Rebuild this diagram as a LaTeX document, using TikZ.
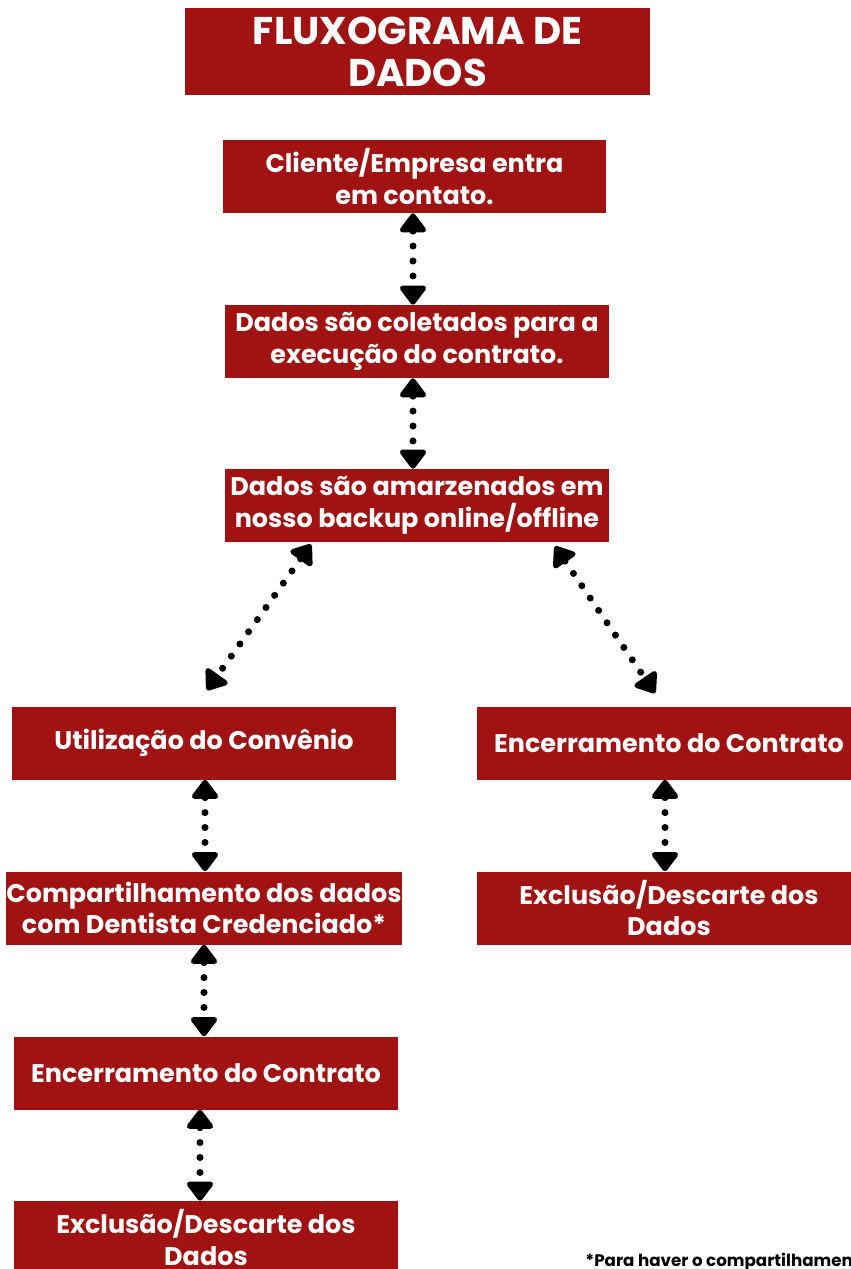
\documentclass[tikz,border=0pt]{standalone}
\usepackage{fontspec}
\setmainfont{Poppins}
\usepackage{tikz}
\usetikzlibrary{arrows.meta}
\definecolor{vinho}{RGB}{161,18,18}
\tikzset{
  caixa/.style={fill=vinho, text=white, inner sep=0pt, align=center,
    minimum width=7.68cm, minimum height=1.46cm,
    font=\bfseries\fontsize{14.5}{18}\selectfont},
  seta/.style={line width=4pt, line cap=round, dash pattern=on 0pt off 8.5pt,
    {Triangle[length=0.42cm, width=0.6cm, round]}-{Triangle[length=0.42cm, width=0.6cm, round]}}
}

\begin{document}
\begin{tikzpicture}[x=0.02cm, y=-0.02cm]
  \useasboundingbox (0,0) rectangle (851,1269);

  \node[caixa, minimum width=9.3cm, minimum height=1.74cm,
    font=\bfseries\fontsize{22}{24}\selectfont] (titulo) at (417.5,51.5) {FLUXOGRAMA DE\\DADOS};

  \node[caixa] (contato) at (414.5,176.5) {Cliente/Empresa entra\\em contato.};
  \node[caixa] (coleta) at (417,341.5) {Dados são coletados para a\\execução do contrato.};
  \node[caixa] (backup) at (417,505.5) {Dados são amarzenados em\\nosso backup online/offline};

  \node[caixa] (convenio) at (204,743) {Utilização do Convênio};
  \node[caixa] (compart) at (204,908) {Compartilhamento dos dados\\com Dentista Credenciado*};
  \node[caixa] (encerraA) at (206,1073) {Encerramento do Contrato};
  \node[caixa] (exclusaoA) at (206,1237.5) {Exclusão/Descarte dos\\Dados};

  \node[caixa] (encerraB) at (669,743) {Encerramento do Contrato};
  \node[caixa] (exclusaoB) at (669,908) {Exclusão/Descarte dos\\Dados};

  \node[anchor=base west, inner sep=0pt, font=\bfseries\fontsize{9.5}{11}\selectfont] (nota) at (585,1266) {*Para haver o compartilhamento};

  % setas
  \draw[seta] ([shift={(-1.5,0)}]contato.south) -- ([shift={(-1.5,0)}]contato.south |- coleta.north);
  \draw[seta] ([shift={(-4,0)}]coleta.south) -- ([shift={(-4,0)}]coleta.south |- backup.north);
  \draw[seta] ([shift={(-106,2)}]backup.south) -- ([shift={(3,-16)}]convenio.north);
  \draw[seta] ([shift={(138,4)}]backup.south) -- ([shift={(-14,-13)}]encerraB.north);
  \draw[seta] ([shift={(1,0)}]convenio.south) -- ([shift={(1,0)}]convenio.south |- compart.north);
  \draw[seta] ([shift={(-4,0)}]encerraB.south) -- ([shift={(-4,0)}]encerraB.south |- exclusaoB.north);
  \draw[seta] (compart.south) -- (compart.south |- encerraA.north);
  \draw[seta] ([shift={(-6,0)}]encerraA.south) -- ([shift={(-6,0)}]encerraA.south |- exclusaoA.north);
\end{tikzpicture}
\end{document}
